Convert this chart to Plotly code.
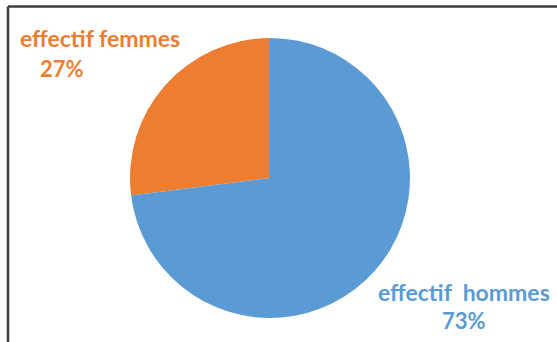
import plotly.graph_objects as go

# Répartition des effectifs par sexe
labels = ["effectif femmes", "effectif  hommes"]
values = [27, 73]
colors = ["#ED7D31", "#5B9BD5"]

W, H = 557, 342


def px(x):
    return x / W


def py(y):
    return 1 - y / H


total = sum(values)
# the first slice ends at 12 o'clock, sweeping clockwise from the left side
start_angle = -360 * values[0] / total

fig = go.Figure(
    go.Pie(
        labels=labels,
        values=values,
        sort=False,
        direction="clockwise",
        rotation=start_angle,
        marker=dict(colors=colors, line=dict(width=0)),
        textinfo="none",
        hoverinfo="label+percent",
        domain=dict(x=[px(130), px(410)], y=[py(318), py(38)]),
        showlegend=False,
    )
)

font_family = "Lato, Carlito, sans-serif"
# label positions: (name line center, percent line center)
label_pos = [
    ((100, 38), (62, 69)),
    ((464, 292), (464, 320)),
]

annotations = []
for lab, val, col, (p1, p2) in zip(labels, values, colors, label_pos):
    pct = f"{round(100 * val / total)}%"
    annotations.append(dict(
        x=px(p1[0]), y=py(p1[1]), xref="paper", yref="paper",
        text=f"<b>{lab}</b>", showarrow=False, xanchor="center", yanchor="middle",
        font=dict(family=font_family, size=23, color=col),
    ))
    annotations.append(dict(
        x=px(p2[0]), y=py(p2[1]), xref="paper", yref="paper",
        text=f"<b>{pct}</b>", showarrow=False, xanchor="center", yanchor="middle",
        font=dict(family=font_family, size=22, color=col),
    ))

# chart frame (top and left edges visible)
shapes = [
    dict(type="line", xref="paper", yref="paper",
         x0=px(8), x1=1.02, y0=py(6.5), y1=py(6.5),
         line=dict(color="#3c3c3c", width=2.5)),
    dict(type="line", xref="paper", yref="paper",
         x0=px(8), x1=px(8), y0=py(6.5), y1=-0.02,
         line=dict(color="#3c3c3c", width=2.5)),
]

fig.update_layout(
    width=W, height=H,
    margin=dict(l=0, r=0, t=0, b=0),
    paper_bgcolor="white",
    plot_bgcolor="white",
    annotations=annotations,
    shapes=shapes,
)

fig.write_html("out.html")
